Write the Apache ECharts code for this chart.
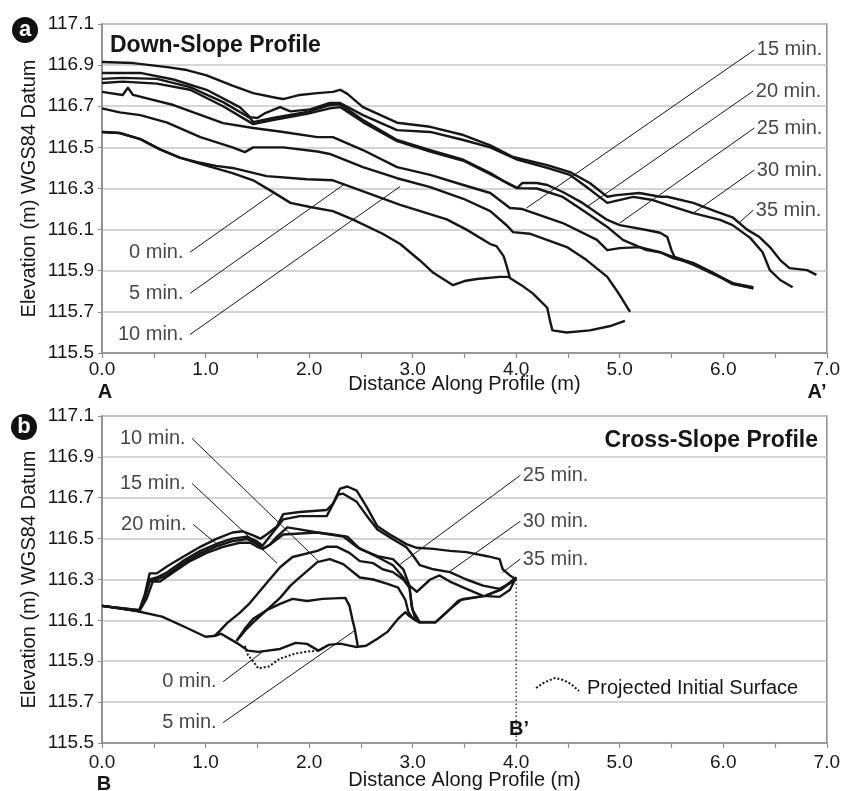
<!DOCTYPE html>
<html>
<head>
<meta charset="utf-8">
<script src="https://cdn.jsdelivr.net/npm/echarts@6/dist/echarts.min.js"></script>
<style>
  html, body { margin: 0; padding: 0; background: #fff; }
  #chart { width: 843px; height: 791px; }
</style>
</head>
<body>
<div id="chart"></div>
<script>
// ---- (a) Down-slope profile, [distance m, elevation m] ----
const down0 = [[0.0,116.575],[0.17,116.57],[0.37,116.54],[0.56,116.49],[0.75,116.45],[0.95,116.42],[1.26,116.375],[1.46,116.34],[1.66,116.28],[1.82,116.23],[2.01,116.21],[2.23,116.19],[2.42,116.15],[2.71,116.08],[2.88,116.03],[3.07,115.95],[3.20,115.89],[3.39,115.83],[3.50,115.85],[3.62,115.86],[3.84,115.87],[3.94,115.87]];
const down5 = [[0.0,116.575],[0.17,116.57],[0.37,116.54],[0.56,116.49],[0.75,116.45],[0.95,116.425],[1.10,116.41],[1.26,116.40],[1.59,116.36],[1.98,116.345],[2.23,116.34],[2.39,116.31],[2.88,116.22],[3.33,116.15],[3.52,116.10],[3.75,116.03],[3.81,116.02],[3.88,115.97],[3.91,115.92],[3.94,115.865],[4.05,115.83],[4.16,115.79],[4.30,115.72],[4.33,115.65],[4.35,115.61],[4.49,115.60],[4.71,115.61],[4.90,115.63],[5.05,115.656]];
const down10 = [[0.0,116.69],[0.17,116.67],[0.37,116.657],[0.63,116.62],[0.95,116.55],[1.26,116.50],[1.38,116.477],[1.46,116.50],[1.75,116.50],[2.08,116.48],[2.20,116.468],[2.52,116.404],[2.85,116.35],[3.17,116.307],[3.49,116.25],[3.75,116.19],[3.91,116.12],[3.97,116.088],[4.13,116.08],[4.49,116.015],[4.68,115.952],[4.88,115.87],[5.00,115.782],[5.10,115.70]];
const down15 = [[0.0,116.77],[0.20,116.755],[0.25,116.79],[0.30,116.755],[0.69,116.706],[1.17,116.618],[1.46,116.594],[1.75,116.575],[2.08,116.55],[2.23,116.55],[2.52,116.487],[2.85,116.404],[3.17,116.366],[3.49,116.317],[3.75,116.278],[3.94,116.205],[4.06,116.20],[4.45,116.132],[4.78,116.05],[4.88,116.0],[5.0,116.01],[5.19,116.015],[5.39,115.99],[5.51,115.962],[5.71,115.937],[5.90,115.89],[6.09,115.84],[6.29,115.815]];
const down20 = [[0.0,116.813],[0.20,116.82],[0.53,116.81],[0.85,116.78],[1.17,116.70],[1.46,116.613],[1.65,116.633],[1.98,116.663],[2.20,116.69],[2.30,116.696],[2.52,116.623],[2.85,116.53],[3.17,116.48],[3.49,116.435],[3.75,116.37],[4.01,116.302],[4.20,116.30],[4.45,116.259],[4.64,116.195],[4.88,116.113],[5.03,116.05],[5.26,116.0],[5.39,115.99],[5.71,115.93],[5.90,115.885],[6.09,115.84],[6.29,115.82]];
const down25 = [[0.0,116.833],[0.20,116.838],[0.53,116.833],[0.85,116.793],[1.17,116.72],[1.43,116.643],[1.46,116.623],[1.65,116.643],[1.98,116.672],[2.20,116.706],[2.30,116.71],[2.52,116.633],[2.85,116.536],[3.17,116.487],[3.49,116.44],[3.75,116.375],[3.91,116.327],[4.01,116.302],[4.06,116.327],[4.20,116.327],[4.30,116.317],[4.45,116.283],[4.64,116.23],[4.88,116.147],[5.00,116.122],[5.26,116.098],[5.39,116.085],[5.46,116.064],[5.50,116.0],[5.53,115.967],[5.71,115.937],[5.90,115.89],[6.09,115.835],[6.29,115.815]];
const down30 = [[0.0,116.862],[0.37,116.862],[0.69,116.83],[1.01,116.78],[1.33,116.696],[1.43,116.647],[1.50,116.643],[1.57,116.665],[1.72,116.696],[1.82,116.675],[2.01,116.685],[2.20,116.716],[2.30,116.716],[2.52,116.657],[2.85,116.584],[3.17,116.575],[3.49,116.536],[3.75,116.50],[4.01,116.44],[4.30,116.40],[4.52,116.366],[4.68,116.307],[4.88,116.23],[5.13,116.259],[5.32,116.244],[5.46,116.22],[5.71,116.18],[5.97,116.147],[6.09,116.122],[6.26,116.06],[6.38,115.99],[6.45,115.903],[6.55,115.855],[6.67,115.82]];
const down35 = [[0.0,116.915],[0.30,116.91],[0.63,116.89],[0.82,116.876],[1.01,116.85],[1.26,116.80],[1.46,116.764],[1.69,116.74],[1.75,116.735],[1.91,116.755],[2.08,116.764],[2.23,116.77],[2.30,116.78],[2.37,116.76],[2.52,116.696],[2.85,116.62],[3.17,116.60],[3.49,116.56],[3.75,116.51],[3.97,116.453],[4.30,116.414],[4.52,116.38],[4.71,116.327],[4.88,116.26],[4.97,116.268],[5.19,116.278],[5.39,116.26],[5.46,116.26],[5.71,116.23],[5.94,116.186],[6.09,116.16],[6.23,116.10],[6.35,116.064],[6.45,116.015],[6.55,115.952],[6.64,115.913],[6.81,115.903],[6.90,115.88]];

// label text, label anchor, point on the curve
const downLeaders = [
  ['0 min.',  [0.85,115.99],  [1.66,116.278]],
  ['5 min.',  [0.85,115.79],  [2.33,116.317]],
  ['10 min.', [0.85,115.59],  [2.88,116.31]],
  ['15 min.', [6.30,116.974], [4.10,116.205]],
  ['20 min.', [6.29,116.774], [4.68,116.21]],
  ['25 min.', [6.30,116.594], [5.00,116.132]],
  ['30 min.', [6.30,116.39],  [5.71,116.18]],
  ['35 min.', [6.29,116.195], [6.16,116.137]]
];

// ---- (b) Cross-slope profile ----
const cross0 = [[0.0,116.171],[0.32,116.147],[0.58,116.118],[0.79,116.07],[1.0,116.02],[1.10,116.025],[1.15,116.035],[1.30,115.99],[1.41,115.952],[1.51,115.946],[1.72,115.96],[1.87,115.99],[1.98,115.985],[2.09,115.952],[2.19,115.98],[2.30,115.986],[2.45,115.97],[2.55,115.976],[2.66,116.01],[2.76,116.045],[2.86,116.108],[2.93,116.14],[2.97,116.12],[3.07,116.09],[3.22,116.09],[3.33,116.14],[3.44,116.195],[3.49,116.205],[3.70,116.22],[3.85,116.25],[3.96,116.29],[4.0,116.31]];
const cross5 = [[1.30,116.0],[1.38,116.06],[1.46,116.108],[1.59,116.15],[1.72,116.181],[1.84,116.205],[1.98,116.195],[2.13,116.205],[2.35,116.21],[2.39,116.171],[2.42,116.10],[2.44,116.06],[2.47,115.976]];
const cross10 = [[1.30,116.0],[1.40,116.06],[1.46,116.09],[1.59,116.15],[1.72,116.21],[1.82,116.27],[1.91,116.31],[2.08,116.385],[2.20,116.40],[2.33,116.375],[2.49,116.31],[2.62,116.30],[2.75,116.28],[2.86,116.26],[2.93,116.2],[2.96,116.14],[3.0,116.11],[3.07,116.09]];
const cross15 = [[1.09,116.025],[1.14,116.05],[1.21,116.088],[1.33,116.137],[1.43,116.186],[1.59,116.283],[1.72,116.36],[1.84,116.41],[2.08,116.44],[2.17,116.46],[2.27,116.46],[2.39,116.43],[2.49,116.39],[2.62,116.38],[2.71,116.35],[2.81,116.336],[2.91,116.30],[2.97,116.26],[2.99,116.17],[3.03,116.1],[3.07,116.09]];
const cross20 = [[0.0,116.171],[0.36,116.145],[0.43,116.205],[0.49,116.29],[0.56,116.29],[0.69,116.335],[0.85,116.39],[1.01,116.43],[1.17,116.46],[1.33,116.48],[1.43,116.48],[1.50,116.46],[1.55,116.45],[1.62,116.47],[1.75,116.52],[2.08,116.53],[2.33,116.51],[2.46,116.46],[2.66,116.41],[2.81,116.37],[2.91,116.31],[2.97,116.26],[3.0,116.15],[3.07,116.09],[3.22,116.09],[3.35,116.15],[3.47,116.2],[3.7,116.22],[3.85,116.25],[4.0,116.31]];
const cross25 = [[0.0,116.171],[0.36,116.145],[0.40,116.19],[0.46,116.29],[0.53,116.30],[0.63,116.322],[0.78,116.378],[0.95,116.428],[1.11,116.463],[1.26,116.488],[1.40,116.498],[1.50,116.473],[1.56,116.452],[1.62,116.47],[1.69,116.51],[1.79,116.555],[1.91,116.545],[2.08,116.53],[2.23,116.52],[2.37,116.51],[2.49,116.45],[2.66,116.414],[2.81,116.40],[2.91,116.35],[2.97,116.27],[3.04,116.24],[3.17,116.30],[3.26,116.32],[3.36,116.29],[3.52,116.254],[3.68,116.22],[3.84,116.215],[3.94,116.25],[4.0,116.31]];
const cross30 = [[0.0,116.171],[0.36,116.15],[0.40,116.19],[0.46,116.30],[0.53,116.31],[0.63,116.335],[0.78,116.39],[0.95,116.44],[1.11,116.475],[1.26,116.50],[1.40,116.51],[1.50,116.485],[1.55,116.465],[1.65,116.53],[1.75,116.594],[1.91,116.61],[2.17,116.61],[2.28,116.716],[2.33,116.72],[2.46,116.68],[2.56,116.61],[2.66,116.545],[2.81,116.497],[2.94,116.458],[3.0,116.42],[3.07,116.37],[3.20,116.35],[3.36,116.336],[3.52,116.30],[3.68,116.27],[3.84,116.254],[3.97,116.29],[4.0,116.31]];
const cross35 = [[0.0,116.171],[0.36,116.15],[0.415,116.23],[0.46,116.33],[0.53,116.33],[0.63,116.365],[0.78,116.41],[0.95,116.46],[1.11,116.50],[1.26,116.53],[1.36,116.536],[1.46,116.516],[1.53,116.50],[1.59,116.52],[1.69,116.56],[1.75,116.62],[1.91,116.63],[2.17,116.64],[2.23,116.67],[2.30,116.745],[2.37,116.755],[2.46,116.735],[2.56,116.652],[2.66,116.56],[2.78,116.52],[2.94,116.473],[3.04,116.455],[3.20,116.45],[3.36,116.44],[3.52,116.434],[3.72,116.414],[3.84,116.40],[3.87,116.35],[3.94,116.32],[4.0,116.30]];
const projectedInitial = [[1.38,115.975],[1.41,115.93],[1.46,115.899],[1.51,115.865],[1.61,115.874],[1.72,115.913],[1.87,115.938],[1.98,115.947],[2.09,115.952]];
const bPrimeLine = [[4.0,116.30],[4.0,115.5]];

const crossLeaders = [
  ['10 min.', [0.87,116.99],  [2.09,116.39]],
  ['15 min.', [0.87,116.77],  [1.69,116.38]],
  ['20 min.', [0.88,116.57],  [1.14,116.46]],
  ['25 min.', [4.04,116.81],  [2.88,116.375]],
  ['30 min.', [4.04,116.585], [3.36,116.34]],
  ['35 min.', [4.04,116.40],  [3.87,116.335]],
  ['0 min.',  [1.17,115.80],  [1.56,115.95]],
  ['5 min.',  [1.17,115.60],  [2.44,116.05]]
];

const xTicks = { min: 0, max: 7, step: 1 };
const yTicks = { min: 115.5, max: 117.1, step: 0.2 };

const FONT = '"Liberation Sans", Arial, Helvetica, sans-serif';
const ink = '#161616';
const axisGray = '#8c8c8c';

const chart = echarts.init(document.getElementById('chart'));

function curve(data, gi) {
  return {
    type: 'line', xAxisIndex: gi, yAxisIndex: gi, data: data,
    symbol: 'none', silent: true, z: 3,
    lineStyle: { color: ink, width: 2.4, join: 'round' }
  };
}

function leaderSeries(leaders, gi) {
  const out = leaders.map(l => ({
    type: 'line', xAxisIndex: gi, yAxisIndex: gi, data: [l[1], l[2]],
    symbol: 'none', silent: true, z: 4,
    lineStyle: { color: ink, width: 1 }
  }));
  out.push({
    type: 'scatter', xAxisIndex: gi, yAxisIndex: gi, symbolSize: 1, silent: true,
    itemStyle: { color: 'rgba(0,0,0,0)' },
    data: leaders.map(l => {
      const left = l[1][0] < l[2][0];
      return {
        value: l[1],
        label: { show: true, formatter: l[0], position: left ? 'left' : 'right', distance: left ? 6 : 2 }
      };
    }),
    label: { fontSize: 20, color: ink, fontFamily: FONT }
  });
  return out;
}

function xAxis(gi, margin, nameGap) {
  return {
    gridIndex: gi, type: 'value', min: xTicks.min, max: xTicks.max, interval: xTicks.step,
    name: 'Distance Along Profile (m)', nameLocation: 'middle', nameGap: nameGap,
    nameMoveOverlap: false,
    nameTextStyle: { fontSize: 20, color: ink, fontFamily: FONT },
    axisLine: { lineStyle: { color: axisGray, width: 1.5 } },
    axisTick: { show: true, length: 5, lineStyle: { color: axisGray, width: 1.2 } },
    minorTick: { show: true, splitNumber: 2, length: 5, lineStyle: { color: axisGray, width: 1.2 } },
    axisLabel: { fontSize: 19, color: ink, fontFamily: FONT, margin: margin, formatter: v => v.toFixed(1) },
    splitLine: { show: false }
  };
}

function yAxis(gi) {
  return {
    gridIndex: gi, type: 'value', min: yTicks.min, max: yTicks.max, interval: yTicks.step,
    name: 'Elevation (m) WGS84 Datum', nameLocation: 'middle', nameGap: 63,
    nameMoveOverlap: false,
    nameTextStyle: { fontSize: 20, color: ink, fontFamily: FONT },
    axisLine: { show: true, lineStyle: { color: axisGray, width: 1.5 } },
    axisTick: { show: true, length: 4, lineStyle: { color: axisGray } },
    axisLabel: { fontSize: 19, color: ink, fontFamily: FONT, margin: 8, formatter: v => v.toFixed(1) },
    splitLine: { show: true, lineStyle: { color: '#c6c6c6', width: 1.5 } }
  };
}

const series = [];
[down0, down5, down10, down15, down20, down25, down30, down35].forEach(d => series.push(curve(d, 0)));
[cross0, cross5, cross10, cross15, cross20, cross25, cross30, cross35].forEach(d => series.push(curve(d, 1)));
series.push(...leaderSeries(downLeaders, 0));
series.push(...leaderSeries(crossLeaders, 1));
series.push({
  type: 'line', xAxisIndex: 1, yAxisIndex: 1, data: projectedInitial, symbol: 'none', silent: true, z: 2,
  lineStyle: { color: ink, width: 2, type: [2, 2] }
});
series.push({
  type: 'line', xAxisIndex: 1, yAxisIndex: 1, data: bPrimeLine, symbol: 'none', silent: true, z: 2,
  lineStyle: { color: ink, width: 1.3, type: [1.5, 2.5] }
});

function badge(letter, cx, cy) {
  return [
    { type: 'circle', shape: { cx: cx, cy: cy, r: 13 }, style: { fill: '#111' }, z: 10 },
    { type: 'text', x: cx, y: cy, z: 11,
      style: { text: letter, fill: '#fff', font: 'bold 22px ' + FONT, textAlign: 'center', textVerticalAlign: 'middle' } }
  ];
}
function txt(text, x, y, size, align, bold) {
  return { type: 'text', x: x, y: y, z: 10,
    style: { text: text, fill: ink, font: (bold ? 'bold ' : '') + size + 'px ' + FONT, textAlign: align, textVerticalAlign: 'middle' } };
}

const option = {
  animation: false,
  backgroundColor: '#fff',
  grid: [
    { left: 102, top: 24, width: 725, height: 329, show: true, borderColor: axisGray, borderWidth: 1.5 },
    { left: 102, top: 416, width: 725, height: 329, show: true, borderColor: axisGray, borderWidth: 1.5 }
  ],
  xAxis: [xAxis(0, 7, 21), xAxis(1, 10, 27)],
  yAxis: [yAxis(0), yAxis(1)],
  series: series,
  graphic: [
    ...badge('a', 25, 30),
    ...badge('b', 24, 427),
    txt('Down-Slope Profile', 110, 46, 23, 'left', true),
    txt('Cross-Slope Profile', 818, 441, 23, 'right', true),
    txt('A', 105, 392, 20, 'center', true),
    txt('A\u2019', 817, 392, 20, 'center', true),
    txt('B', 104, 784, 20, 'center', true),
    txt('B\u2019', 519, 729, 20, 'center', true),
    { type: 'polyline', z: 10,
      shape: { points: [[536, 688], [545, 682], [555, 678], [563, 680], [571, 684], [579, 691]] },
      style: { stroke: ink, lineWidth: 2, lineDash: [2, 2], fill: null } },
    txt('Projected Initial Surface', 587, 688, 20, 'left', false)
  ]
};

chart.setOption(option);
</script>
</body>
</html>
